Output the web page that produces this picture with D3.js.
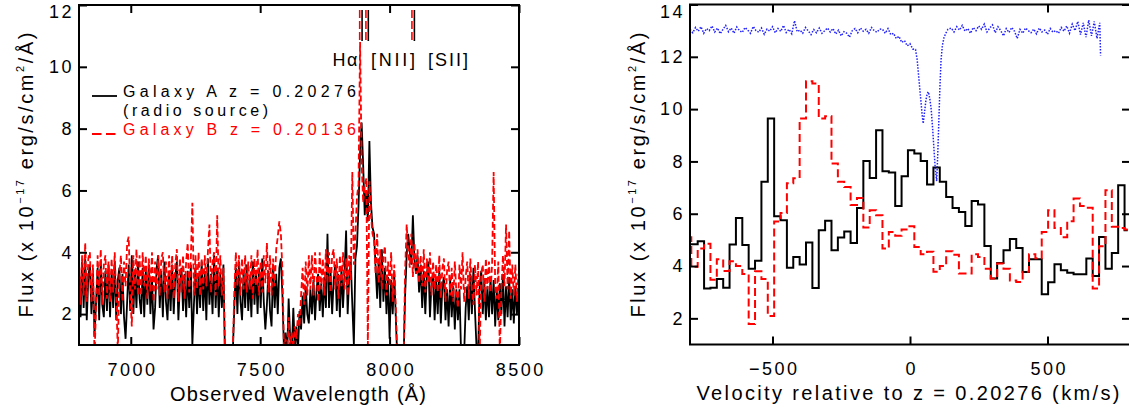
<!DOCTYPE html>
<html><head><meta charset="utf-8">
<script src="https://cdn.jsdelivr.net/npm/d3@7"></script>
<style>
body{margin:0;background:#fff;}
svg text{font-family:"Liberation Sans",Arial,Helvetica,sans-serif;}
</style></head><body>
<svg id="chart" width="1129" height="414"></svg>
<script>
// ---------------- LEFT PANEL DATA ----------------
const wavelength = [
6800,6806,6812,6818,6824,6830,6836,6842,6848,6854,
6860,6866,6872,6878,6884,6890,6896,6902,6908,6914,
6920,6926,6932,6938,6944,6950,6956,6962,6968,6974,
6980,6986,6992,6998,7004,7010,7016,7022,7028,7034,
7040,7046,7052,7058,7064,7070,7076,7082,7088,7094,
7100,7106,7112,7118,7124,7130,7136,7142,7148,7154,
7160,7166,7172,7178,7184,7190,7196,7202,7208,7214,
7220,7226,7232,7238,7244,7250,7256,7262,7268,7274,
7280,7286,7292,7298,7304,7310,7316,7322,7328,7334,
7340,7346,7352,7358,7364,7370,7376,7382,7388,7394,
7400,7406,7412,7418,7424,7430,7436,7442,7448,7454,
7460,7466,7472,7478,7484,7490,7496,7502,7508,7514,
7520,7526,7532,7538,7544,7550,7556,7562,7568,7574,
7580,7586,7592,7598,7604,7610,7616,7622,7628,7634,
7640,7646,7652,7658,7664,7670,7676,7682,7688,7694,
7700,7706,7712,7718,7724,7730,7736,7742,7748,7754,
7760,7766,7772,7778,7784,7790,7796,7802,7808,7814,
7820,7826,7832,7838,7844,7850,7856,7862,7868,7874,
7880,7886,7892,7898,7904,7910,7916,7922,7928,7934,
7940,7946,7952,7958,7964,7970,7976,7982,7988,7994,
8000,8006,8012,8018,8024,8030,8036,8042,8048,8054,
8060,8066,8072,8078,8084,8090,8096,8102,8108,8114,
8120,8126,8132,8138,8144,8150,8156,8162,8168,8174,
8180,8186,8192,8198,8204,8210,8216,8222,8228,8234,
8240,8246,8252,8258,8264,8270,8276,8282,8288,8294,
8300,8306,8312,8318,8324,8330,8336,8342,8348,8354,
8360,8366,8372,8378,8384,8390,8396,8402,8408,8414,
8420,8426,8432,8438,8444,8450,8456,8462,8468,8474,
8480,8486,8492,8498];

// Galaxy A (black, solid)
const fluxA = [
3.4,1.9,3.7,2.2,3.8,1.8,3.2,3.6,2.0,3.3,
1.3,2.4,3.5,1.8,3.7,2.3,1.9,3.4,2.1,3.6,
1.9,3.4,2.2,3.7,1.8,3.1,3.5,2.0,3.3,1.9,
1.2,2.4,3.6,2.1,3.9,2.0,3.4,2.2,3.7,2.5,
2.0,3.5,1.9,3.4,2.3,3.6,2.0,3.2,1.5,2.2,
3.5,3.9,2.2,3.4,1.9,3.7,2.4,1.8,3.3,2.1,
3.6,2.0,3.2,3.7,1.8,3.0,3.5,2.1,3.3,1.9,
3.4,2.2,3.6,1.0,2.3,3.5,2.0,3.3,2.2,3.7,
2.1,3.4,1.8,3.8,2.3,3.3,2.0,3.9,2.2,3.5,
1.9,3.3,2.2,3.6,0.6,0.4,0.3,0.4,0.5,0.7,
2.2,3.5,2.0,3.7,2.4,1.8,3.4,2.2,3.6,2.1,
3.2,1.9,3.7,2.3,3.4,2.0,3.5,2.2,3.8,2.4,
1.5,2.3,3.4,2.1,1.6,3.6,2.2,3.3,2.0,3.5,
3.8,2.6,0.8,1.4,0.6,2.5,1.2,0.7,2.2,0.9,
1.6,0.8,2.1,1.5,2.6,1.7,2.9,2.0,1.7,2.8,
2.0,3.1,1.8,2.8,3.3,2.1,3.0,1.9,3.2,2.2,
4.6,2.2,3.4,2.0,3.1,3.6,2.1,3.3,1.9,3.5,
2.2,3.3,4.7,2.0,3.2,3.7,2.3,1.0,3.8,4.2,
5.5,7.2,8.2,6.8,5.2,6.0,5.0,7.6,5.6,4.8,
4.6,3.5,2.5,3.8,2.2,4.1,2.4,3.5,2.0,3.2,
1.2,3.1,2.0,3.3,1.9,0.5,0.3,0.3,0.4,0.5,
2.6,3.9,4.6,4.0,3.6,5.2,3.8,3.3,3.9,2.7,
3.6,2.2,3.4,2.0,3.3,3.7,1.9,3.0,3.3,1.8,
3.1,2.0,3.4,1.7,2.9,3.2,1.8,2.8,1.6,3.1,
1.9,2.9,1.5,2.8,1.8,2.8,0.8,0.6,0.7,2.2,
2.9,1.8,3.3,2.0,3.5,2.1,0.9,0.7,2.9,3.4,
2.0,3.1,1.8,2.9,1.9,3.2,2.0,3.1,1.6,2.8,
1.8,3.0,2.0,3.3,1.6,2.9,1.9,3.2,1.8,2.8,
1.7,2.9,2.0,2.7];

// Galaxy B (red, dashed)
const fluxB = [
3.8,2.3,3.9,2.6,4.3,2.4,3.8,4.0,2.4,3.6,
0.6,2.3,3.9,2.6,4.1,2.3,3.6,3.9,2.5,3.7,
2.4,3.8,2.7,4.0,2.5,0.8,3.3,3.9,2.4,3.7,
2.9,4.3,4.5,2.7,1.6,3.9,2.8,4.1,2.6,3.9,
2.6,4.0,2.9,3.9,2.5,3.8,2.7,4.0,2.4,3.7,
2.8,3.9,2.6,3.8,4.0,2.7,3.7,2.5,3.9,2.8,
3.9,2.5,3.6,4.1,2.4,3.8,2.7,3.9,2.5,3.7,
4.3,2.7,3.8,5.6,2.6,3.9,2.8,4.0,2.6,3.8,
2.8,3.9,2.9,4.0,4.9,2.7,3.7,4.0,2.6,5.2,
2.9,3.9,2.6,3.5,0.6,0.4,0.3,0.4,0.5,0.7,
2.7,4.0,2.9,3.9,2.6,3.8,2.8,3.9,2.7,3.7,
2.8,3.9,2.5,3.8,2.9,4.1,2.6,3.7,2.7,3.9,
3.0,4.3,2.7,3.9,2.6,3.8,2.9,4.1,4.5,5.0,
4.6,3.4,0.8,1.2,0.7,1.9,0.8,1.4,0.9,1.6,
1.2,2.0,1.6,2.6,3.5,2.3,3.7,2.6,3.9,2.8,
3.9,2.6,4.0,3.2,2.4,4.0,2.8,3.8,2.6,4.1,
3.0,4.0,2.7,3.9,4.1,2.8,3.8,2.5,3.9,2.9,
4.0,2.8,3.8,2.6,3.9,3.1,6.6,3.6,4.6,5.8,
6.2,10.8,6.9,5.6,6.1,6.4,1.0,6.3,5.2,4.6,
4.4,3.3,4.6,3.0,4.1,2.8,3.9,4.2,2.6,3.7,
2.9,4.0,2.4,3.6,2.2,0.5,0.3,0.3,0.4,0.5,
3.4,4.9,4.0,3.5,4.6,3.2,4.3,3.3,4.1,3.0,
3.9,2.9,4.1,2.7,3.8,3.0,4.0,2.6,3.7,2.8,
3.6,2.7,3.9,2.5,3.5,3.8,2.4,3.4,3.7,2.6,
3.5,2.4,3.7,2.7,2.2,3.6,2.8,4.0,2.4,3.2,
3.7,2.5,3.8,2.8,2.3,3.6,2.6,3.7,0.6,3.3,
3.6,2.4,3.8,2.8,3.7,2.7,3.6,6.6,2.9,2.5,
3.7,0.7,2.8,3.9,2.9,4.9,2.8,4.7,2.5,3.6,
2.6,3.6,2.4,3.3];

const lineRest = [6563, 6583, 6731];
const lineLabels = ["H\u03B1", "[NII]", "[SII]"];
const zA = 0.20276, zB = 0.20136;
const legendLabels = ["Galaxy A z = 0.20276", "(radio source)", "Galaxy B z = 0.20136"];

const leftXTicks = [7000, 7500, 8000, 8500];
const leftYTicks = [2, 4, 6, 8, 10, 12];

// ---------------- RIGHT PANEL DATA ----------------
const velBins = [
-806.8,-783.6,-760.4,-737.2,-714.1,-690.9,-667.7,-644.6,-621.4,-598.2,
-575.1,-551.9,-528.7,-505.6,-482.4,-459.2,-436.1,-412.9,-389.7,-366.6,
-343.4,-320.2,-297.1,-273.9,-250.7,-227.6,-204.4,-181.2,-158.1,-134.9,
-111.7,-88.6,-65.4,-42.2,-19.1,4.1,27.3,50.4,73.6,96.8,
119.9,143.1,166.3,189.4,212.6,235.8,258.9,282.1,305.3,328.4,
351.6,374.8,397.9,421.1,444.3,467.4,490.6,513.8,536.9,560.1,
583.3,606.4,629.6,652.8,675.9,699.1,722.3,745.4,768.6,791.8];

const histA = [
4.83,4.83,4.95,3.14,3.17,3.5,3.17,4.82,5.84,4.8,
3.9,4.2,7.22,9.64,5.9,5.75,3.93,4.35,4.06,4.9,
3.16,5.37,5.73,4.6,5.09,5.32,4.88,6.22,8.02,7.37,
9.19,7.62,7.58,6.3,7.43,8.43,8.3,8.02,7.12,7.77,
7.22,6.64,6.22,6.07,5.53,6.49,6.35,4.77,3.52,4.12,
4.6,5.03,4.69,3.77,4.26,4.26,2.92,3.38,4.07,3.84,
3.74,3.69,3.69,4.29,3.62,5.11,3.9,4.5,7.09,5.37];

const histB = [
5.1,3.97,4.67,4.85,3.48,4.26,3.81,4.18,4.0,3.7,
1.78,3.8,3.5,2.09,5.7,6.03,7.17,7.36,9.64,11.07,
10.98,9.64,9.73,7.92,7.22,7.02,6.33,6.6,5.47,6.13,
5.94,4.67,5.3,5.16,5.4,5.52,4.73,4.45,4.55,3.78,
4.0,4.57,4.43,3.71,3.71,4.45,4.35,3.9,3.52,4.1,
3.9,3.45,3.39,3.78,4.45,4.3,5.3,6.13,5.45,5.1,
5.71,6.58,6.3,6.23,3.14,4.76,6.9,5.5,5.45,5.4];

const velBlue = [
-800,-790,-780,-770,-760,-750,-740,-730,-720,-710,
-700,-690,-680,-670,-660,-650,-640,-630,-620,-610,
-600,-590,-580,-570,-560,-550,-540,-530,-520,-510,
-500,-490,-480,-470,-460,-450,-440,-430,-420,-410,
-400,-390,-380,-370,-360,-350,-340,-330,-320,-310,
-300,-290,-280,-270,-260,-250,-240,-230,-220,-210,
-200,-190,-180,-170,-160,-150,-140,-130,-120,-110,
-100,-90,-80,-70,-60,-50,-40,-30,-20,-10,0,10,20,
26,32,38,44,48,53,58,63,67,72,77,82,87,92,97,101,105,109,113,118,124,130,138,
150,160,170,180,190,200,210,220,230,240,
250,260,270,280,290,300,310,320,330,340,
350,360,370,380,390,400,410,420,430,440,
450,460,470,480,490,500,510,520,530,540,
550,560,570,580,590,600,610,620,630,640,
650,660,670,680,690,693];

const fluxBlue = [
13.05,12.92,13.12,12.98,13.15,12.9,13.08,13.0,13.18,12.95,
13.1,12.88,13.05,13.2,12.96,13.1,12.9,13.14,13.0,12.93,
13.12,13.02,12.9,13.16,13.0,12.94,13.1,12.86,13.06,12.98,
13.15,12.92,13.08,12.97,13.2,12.93,13.05,12.88,13.38,12.96,
13.02,12.9,13.12,12.99,12.85,13.04,12.92,13.1,12.9,13.0,
13.1,12.95,13.08,12.87,13.02,12.8,12.96,12.9,12.75,13.0,
13.08,12.92,13.1,12.98,13.05,12.9,13.12,13.0,12.94,13.06,
13.05,12.9,13.08,12.85,12.9,12.7,12.78,12.55,12.62,12.42,12.5,12.3,12.28,
11.9,11.2,10.5,9.8,9.45,9.9,10.35,10.6,10.66,10.4,10.0,9.3,8.5,7.7,7.25,8.3,9.6,10.9,11.9,12.45,12.75,12.9,13.05,
13.1,12.95,13.15,13.02,13.2,12.98,13.08,12.9,13.12,13.0,
13.18,13.05,13.25,12.95,13.1,13.22,12.92,13.15,13.0,12.8,
13.08,12.93,13.12,12.98,12.7,13.05,12.9,13.1,13.0,12.92,
13.06,12.88,13.1,12.95,13.02,12.86,13.08,12.94,13.0,12.9,
13.12,12.98,13.18,12.9,13.25,13.0,13.35,12.85,13.3,12.75,
13.4,12.8,13.35,12.7,13.3,12.05];

const rightXTicks = [-500, 0, 500];
const rightYTicks = [2, 4, 6, 8, 10, 12, 14];

// ---------------- DRAWING ----------------
const svg = d3.select("#chart");
svg.append("rect").attr("width", 1129).attr("height", 414).attr("fill", "#fff");
const defs = svg.append("defs");
const FONT = '"Liberation Sans",Arial,Helvetica,sans-serif';
const fmt = d => d < 0 ? "\u2212" + Math.abs(d) : String(d);

function plotArea(id, x, y) {
  const [x0, x1] = x.range(), [yb, yt] = y.range();
  defs.append("clipPath").attr("id", id).append("rect")
    .attr("x", x0).attr("y", yt).attr("width", x1 - x0).attr("height", yb - yt);
  return svg.append("g").attr("clip-path", `url(#${id})`);
}

function axes(x, y, xt, yt) {
  const [x0, x1] = x.range(), [yb, ytop] = y.range();
  const gB = svg.append("g").attr("transform", `translate(0,${yb})`)
    .call(d3.axisBottom(x).tickValues(xt).tickSize(-8).tickPadding(18).tickFormat(fmt));
  const gT = svg.append("g").attr("transform", `translate(0,${ytop})`)
    .call(d3.axisTop(x).tickValues(xt).tickSize(-8).tickFormat(""));
  const gL = svg.append("g").attr("transform", `translate(${x0},0)`)
    .call(d3.axisLeft(y).tickValues(yt).tickSize(-8).tickPadding(5).tickFormat(fmt));
  const gR = svg.append("g").attr("transform", `translate(${x1},0)`)
    .call(d3.axisRight(y).tickValues(yt).tickSize(-8).tickFormat(""));
  [gB, gT, gL, gR].forEach(g => {
    g.select(".domain").remove();
    g.selectAll(".tick line").attr("stroke", "#000").attr("stroke-width", 2);
    g.selectAll(".tick text").attr("font-size", 18).attr("font-family", FONT)
      .attr("fill", "#000").attr("letter-spacing", 2.5);
  });
  gB.selectAll(".tick text").attr("dx", 1.2);
  gL.selectAll(".tick").filter(d => d === yt[yt.length - 1]).select("text").attr("y", 7);
  svg.append("rect").attr("x", x0).attr("y", ytop).attr("width", x1 - x0).attr("height", yb - ytop)
    .attr("fill", "none").attr("stroke", "#000").attr("stroke-width", 2);
}

function yTitle(x, cy, len) {
  const t = svg.append("text").attr("transform", `translate(${x},${cy}) rotate(-90)`)
    .attr("text-anchor", "middle").attr("font-size", 20).attr("fill", "#000");
  t.append("tspan").text("Flux (x 10");
  t.append("tspan").attr("font-size", 11).attr("dy", -9).text("\u221217");
  t.append("tspan").attr("dy", 9).text(" erg/s/cm");
  t.append("tspan").attr("font-size", 11).attr("dy", -9).text("2");
  t.append("tspan").attr("dy", 9).text("/\u00C5)");
  t.attr("textLength", len).attr("lengthAdjust", "spacing");
}

// ----- Left panel -----
const xL = d3.scaleLinear().domain([6800, 8500]).range([79, 519]);
const yL = d3.scaleLinear().domain([1, 12]).range([345, 5]);
const gL = plotArea("clipL", xL, yL);
const specLine = d3.line().x(d => xL(d[0])).y(d => yL(d[1]));
gL.append("path").datum(wavelength.map((w, i) => [w, fluxA[i]]))
  .attr("d", specLine).attr("fill", "none").attr("stroke", "#000").attr("stroke-width", 1.8);
gL.append("path").datum(wavelength.map((w, i) => [w, fluxB[i]]))
  .attr("d", specLine).attr("fill", "none").attr("stroke", "#ff0000").attr("stroke-width", 1.8)
  .attr("stroke-dasharray", "6,3");

// line markers
[[zB, "#ff0000", "8,3"], [zA, "#000", null]].forEach(([z, c, dash]) => {
  lineRest.forEach(l => {
    const px = xL(l * (1 + z));
    const ln = svg.append("line").attr("x1", px).attr("x2", px).attr("y1", 10).attr("y2", 41)
      .attr("stroke", c).attr("stroke-width", 1.6);
    if (dash) ln.attr("stroke-dasharray", dash);
  });
});
// line labels
const labelPos = [[345, 25], [393, 44], [448, 40]];
lineLabels.forEach((t, i) => {
  svg.append("text").attr("x", labelPos[i][0]).attr("y", 66).attr("text-anchor", "middle")
    .attr("font-size", 18).attr("fill", "#000")
    .attr("textLength", labelPos[i][1]).attr("lengthAdjust", "spacing").text(t);
});

// legend
svg.append("line").attr("x1", 92).attr("x2", 117).attr("y1", 96).attr("y2", 96)
  .attr("stroke", "#000").attr("stroke-width", 1.8);
svg.append("line").attr("x1", 92).attr("x2", 116).attr("y1", 134).attr("y2", 134)
  .attr("stroke", "#ff0000").attr("stroke-width", 1.8).attr("stroke-dasharray", "9.5,4.5");
const legY = [97, 116, 135];
const legW = [233, 145, 233];
const legC = ["#000", "#000", "#ff0000"];
legendLabels.forEach((t, i) => {
  svg.append("text").attr("x", 123).attr("y", legY[i]).attr("font-size", 16).attr("fill", legC[i])
    .attr("textLength", legW[i]).attr("lengthAdjust", "spacing").text(t);
});

axes(xL, yL, leftXTicks, leftYTicks);
yTitle(33, 175, 285);
svg.append("text").attr("x", 298).attr("y", 401).attr("text-anchor", "middle")
  .attr("font-size", 20).attr("fill", "#000").attr("textLength", 256).attr("lengthAdjust", "spacing")
  .text("Observed Wavelength (\u00C5)");

// ----- Right panel -----
const xR = d3.scaleLinear().domain([-800, 800]).range([690, 1130]);
const yR = d3.scaleLinear().domain([1, 14]).range([344.5, 4.5]);
const gR = plotArea("clipR", xR, yR);
const stepLine = d3.line().curve(d3.curveStep).x(d => xR(d[0])).y(d => yR(d[1]));
gR.append("path").datum(velBins.map((v, i) => [v, histA[i]]))
  .attr("d", stepLine).attr("fill", "none").attr("stroke", "#000").attr("stroke-width", 2);
gR.append("path").datum(velBins.map((v, i) => [v, histB[i]]))
  .attr("d", stepLine).attr("fill", "none").attr("stroke", "#ff0000").attr("stroke-width", 2)
  .attr("stroke-dasharray", "8,4");
const blueLine = d3.line().x(d => xR(d[0])).y(d => yR(d[1]));
gR.append("path").datum(velBlue.map((v, i) => [v, fluxBlue[i]]))
  .attr("d", blueLine).attr("fill", "none").attr("stroke", "#2020ff").attr("stroke-width", 1.5)
  .attr("stroke-dasharray", "1.5,1.5");

axes(xR, yR, rightXTicks, rightYTicks);
yTitle(645, 175, 285);
svg.append("text").attr("x", 908).attr("y", 400).attr("text-anchor", "middle")
  .attr("font-size", 20).attr("fill", "#000").attr("textLength", 423).attr("lengthAdjust", "spacing")
  .text("Velocity relative to z = 0.20276 (km/s)");
</script>
</body></html>
